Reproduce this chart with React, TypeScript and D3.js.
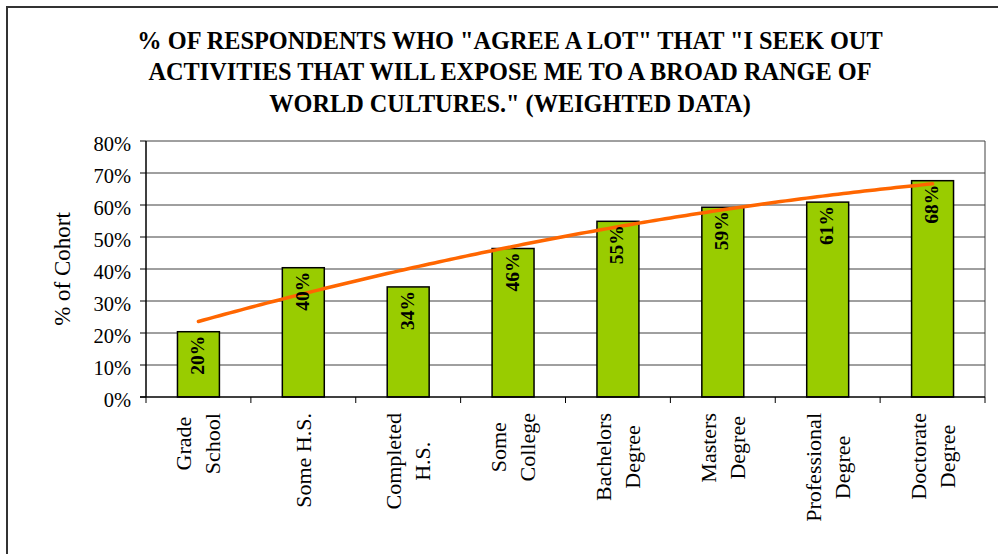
import React, { useEffect, useRef } from "react";
import * as d3 from "d3";

const categories: string[][] = [
  ["Grade", "School"],
  ["Some H.S."],
  ["Completed", "H.S."],
  ["Some", "College"],
  ["Bachelors", "Degree"],
  ["Masters", "Degree"],
  ["Professional", "Degree"],
  ["Doctorate", "Degree"],
];
const values: number[] = [20.4, 40.4, 34.4, 46.4, 54.9, 59.3, 60.9, 67.6];
const yTicks: number[] = [0, 10, 20, 30, 40, 50, 60, 70, 80];
const titleLines: string[] = [
  '% OF RESPONDENTS WHO "AGREE A LOT" THAT "I SEEK OUT',
  "ACTIVITIES THAT WILL EXPOSE ME TO A BROAD RANGE OF",
  'WORLD CULTURES." (WEIGHTED DATA)',
];
const yTitle = "% of Cohort";

const W = 998;
const H = 554;
const plot = { left: 146, right: 985, top: 141, bottom: 397 };
const SERIF = "'Liberation Serif', 'Times New Roman', serif";

// quadratic least-squares trend (Excel polynomial order 2 trendline)
function polyFit2(ys: number[]) {
  const xs = ys.map((_, i) => i);
  const mx = d3.mean(xs)!;
  const my = d3.mean(ys)!;
  const t = xs.map((x) => x - mx);
  const mt2 = d3.mean(t, (v) => v * v)!;
  const u = t.map((v) => v * v - mt2);
  const b = d3.sum(t, (v, i) => v * (ys[i] - my)) / d3.sum(t, (v) => v * v);
  const c = d3.sum(u, (v, i) => v * (ys[i] - my)) / d3.sum(u, (v) => v * v);
  return (x: number) => {
    const tt = x - mx;
    return my + b * tt + c * (tt * tt - mt2);
  };
}

export default function App() {
  const ref = useRef<SVGSVGElement>(null);

  useEffect(() => {
    const svg = d3.select(ref.current);
    svg.selectAll("*").remove();

    const x = d3
      .scaleBand<number>()
      .domain(values.map((_, i) => i))
      .range([plot.left, plot.right])
      .paddingInner(0.6)
      .paddingOuter(0.3);
    const step = x.step();
    const cx = (i: number) => plot.left + step * (i + 0.5);
    const y = d3.scaleLinear().domain([0, 80]).range([plot.bottom, plot.top]);

    // outer frame
    svg
      .append("rect")
      .attr("x", 7)
      .attr("y", 7)
      .attr("width", 1100)
      .attr("height", 700)
      .attr("fill", "white")
      .attr("stroke", "#333")
      .attr("stroke-width", 2);

    // title
    const tb = [48.5, 80, 111.5];
    svg
      .append("g")
      .selectAll("text")
      .data(titleLines)
      .join("text")
      .attr("x", 510)
      .attr("y", (_, i) => tb[i])
      .attr("text-anchor", "middle")
      .attr("font-family", SERIF)
      .attr("font-weight", "bold")
      .attr("font-size", 24.3)
      .attr("fill", "#000")
      .text((d) => d);

    // plot border right
    svg
      .append("line")
      .attr("x1", plot.right)
      .attr("x2", plot.right)
      .attr("y1", plot.top)
      .attr("y2", plot.bottom)
      .attr("stroke", "#808080")
      .attr("stroke-width", 1.5);

    // gridlines
    svg
      .append("g")
      .selectAll("line")
      .data(yTicks.filter((t) => t > 0))
      .join("line")
      .attr("x1", plot.left)
      .attr("x2", plot.right)
      .attr("y1", (d) => y(d))
      .attr("y2", (d) => y(d))
      .attr("stroke", "#404040")
      .attr("stroke-width", 1);

    // y ticks and labels
    const ya = svg.append("g");
    ya.selectAll("line")
      .data(yTicks)
      .join("line")
      .attr("x1", plot.left - 6)
      .attr("x2", plot.left)
      .attr("y1", (d) => y(d))
      .attr("y2", (d) => y(d))
      .attr("stroke", "#000")
      .attr("stroke-width", 1);
    ya.selectAll("text")
      .data(yTicks)
      .join("text")
      .attr("x", 131)
      .attr("y", (d) => y(d) + 9.5)
      .attr("text-anchor", "end")
      .attr("font-family", SERIF)
      .attr("font-size", 20.5)
      .attr("fill", "#000")
      .text((d) => `${d}%`);

    // y title
    svg
      .append("text")
      .attr("transform", `translate(62,${(plot.top + plot.bottom) / 2}) rotate(-90)`)
      .attr("y", 8)
      .attr("text-anchor", "middle")
      .attr("font-family", SERIF)
      .attr("font-size", 23)
      .attr("fill", "#000")
      .text(yTitle);

    // bars
    svg
      .append("g")
      .selectAll("rect")
      .data(values)
      .join("rect")
      .attr("x", (_, i) => x(i)!)
      .attr("width", x.bandwidth())
      .attr("y", (d) => y(d))
      .attr("height", (d) => plot.bottom - y(d))
      .attr("fill", "#99CC00")
      .attr("stroke", "#000")
      .attr("stroke-width", 1.5);

    // axes lines
    svg
      .append("line")
      .attr("x1", plot.left)
      .attr("x2", plot.left)
      .attr("y1", plot.top)
      .attr("y2", plot.bottom)
      .attr("stroke", "#000")
      .attr("stroke-width", 1.5);
    svg
      .append("line")
      .attr("x1", plot.left - 6)
      .attr("x2", plot.right)
      .attr("y1", plot.bottom)
      .attr("y2", plot.bottom)
      .attr("stroke", "#000")
      .attr("stroke-width", 1.5);
    // x tick marks at category boundaries
    svg
      .append("g")
      .selectAll("line")
      .data(d3.range(values.length + 1))
      .join("line")
      .attr("x1", (i) => plot.left + step * i)
      .attr("x2", (i) => plot.left + step * i)
      .attr("y1", plot.bottom)
      .attr("y2", plot.bottom + 6)
      .attr("stroke", "#000")
      .attr("stroke-width", 1);

    // trend line
    const f = polyFit2(values);
    const pts = d3.range(0, values.length - 1 + 1e-9, 0.05);
    const line = d3
      .line<number>()
      .x((d) => cx(d))
      .y((d) => y(f(d)));
    svg
      .append("path")
      .attr("d", line(pts))
      .attr("fill", "none")
      .attr("stroke", "#FF6600")
      .attr("stroke-width", 3.5)
      .attr("stroke-linecap", "round");

    // bar labels
    svg
      .append("g")
      .selectAll("text")
      .data(values)
      .join("text")
      .attr("transform", (d, i) => `translate(${cx(i)},${y(d) + 4}) rotate(-90)`)
      .attr("y", 5.5)
      .attr("text-anchor", "end")
      .attr("font-family", SERIF)
      .attr("font-weight", "bold")
      .attr("font-size", 19.5)
      .attr("fill", "#000")
      .text((d) => `${Math.round(d)}%`);

    // x labels (rotated, multi-line, lines centered within block, block top aligned)
    const yTop = 413;
    const lineGap = 29;
    categories.forEach((lines, i) => {
      const g = svg.append("g");
      const texts = lines.map((ln) =>
        g
          .append("text")
          .attr("text-anchor", "middle")
          .attr("font-family", SERIF)
          .attr("font-size", 22)
          .attr("fill", "#000")
          .text(ln)
      );
      const maxLen = d3.max(texts, (t) => (t.node() as SVGTextElement).getComputedTextLength()) || 0;
      texts.forEach((t, j) => {
        const off = (j - (lines.length - 1) / 2) * lineGap;
        t.attr("transform", `translate(${cx(i) + off},${yTop}) rotate(-90)`)
          .attr("x", -maxLen / 2)
          .attr("y", 7.5);
      });
    });
  }, []);

  return (
    <svg
      ref={ref}
      width={W}
      height={H}
      style={{ position: "absolute", left: 0, top: 0, background: "white" }}
    />
  );
}
